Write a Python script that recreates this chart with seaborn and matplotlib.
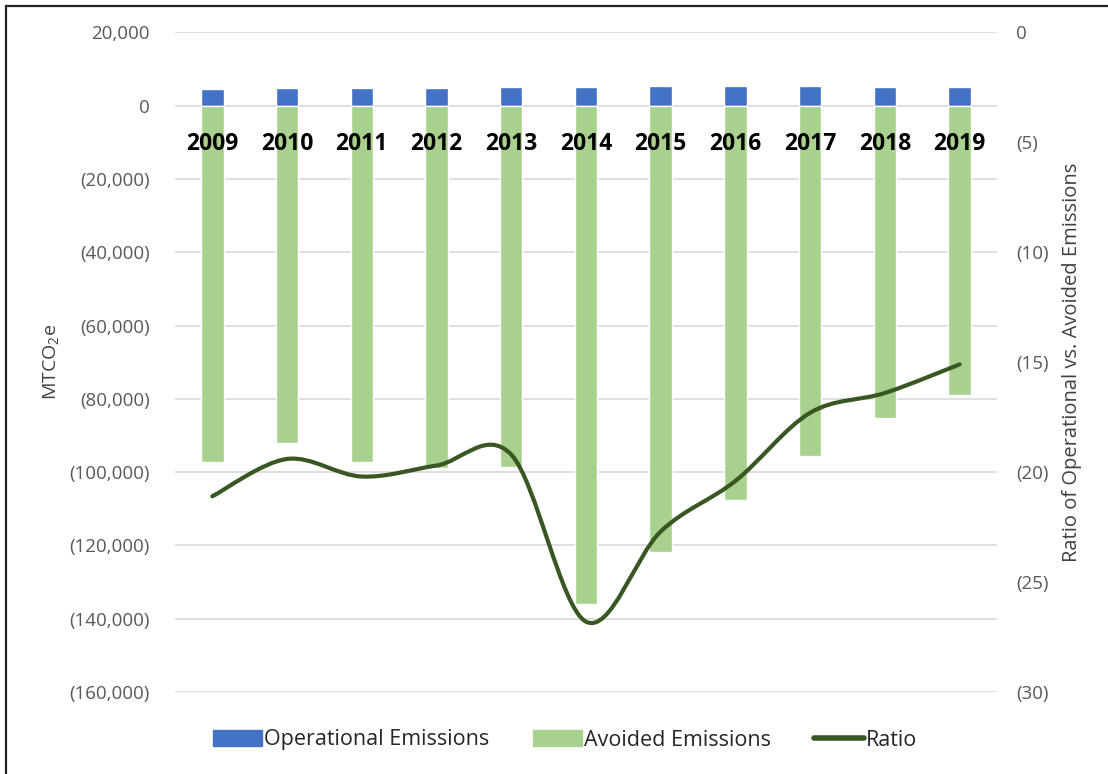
import numpy as np
import matplotlib
matplotlib.use("Agg")
import matplotlib.pyplot as plt
import seaborn as sns
from matplotlib.path import Path
from matplotlib.patches import PathPatch, Patch, Rectangle
from matplotlib.lines import Line2D
from matplotlib.ticker import FuncFormatter, MultipleLocator

# values
years = ['2009', '2010', '2011', '2012', '2013', '2014', '2015', '2016', '2017', '2018', '2019']
operational = [4560, 4730, 4820, 4910, 5000, 5000, 5270, 5270, 5460, 5180, 5180]
avoided = [-97330, -92030, -97330, -98960, -98690, -135960, -121870, -107500, -95690, -85320, -78940]
ratio = [-21.1, -19.4, -20.2, -19.7, -19.2, -26.8, -22.7, -20.4, -17.3, -16.4, -15.1]

blue = '#4472C4'
green = '#A9D18E'
dark_green = '#385723'

sns.set_style('white')
plt.rcParams['font.family'] = ['Open Sans', 'DejaVu Sans']
plt.rcParams['mathtext.default'] = 'regular'


def paren_fmt(v, pos):
    if v < 0:
        return f"({abs(v):,.0f})"
    return f"{v:,.0f}"


fig = plt.figure(figsize=(11.08, 7.74), dpi=100)
ax = fig.add_axes([0.1579, 0.1059, 0.7419, 0.8523])

# stacked-at-zero bars: operational above, avoided below
sns.barplot(x=years, y=operational, color=blue, saturation=1, width=0.3, ax=ax, zorder=2)
sns.barplot(x=years, y=avoided, color=green, saturation=1, width=0.3, ax=ax, zorder=2)

ax.set_ylim(-160000, 20000)
ax.set_xlim(-0.5, len(years) - 0.5)
ax.yaxis.set_major_locator(MultipleLocator(20000))
ax.yaxis.set_major_formatter(FuncFormatter(paren_fmt))
ax.grid(axis='y', color='#D9D9D9', lw=1.2)
ax.grid(axis='x', visible=False)
ax.set_axisbelow(True)
ax.xaxis.set_zorder(5)  # year labels sit on top of the bars
for s in ax.spines.values():
    s.set_visible(False)
ax.spines['bottom'].set_position(('data', 0))
ax.tick_params(axis='y', length=0, pad=18, labelsize=13.5, labelcolor='#595959')
ax.tick_params(axis='x', length=0, pad=19, labelsize=16.5, labelcolor='black')
for lbl in ax.get_xticklabels():
    lbl.set_fontweight('bold')
ax.set_ylabel('MTCO$_2$e', fontsize=14, color='#404040', labelpad=6)
ax.set_xlabel('')

# ratio on the secondary axis, drawn as a smoothed curve through the points
ax2 = ax.twinx()
ax2.set_ylim(-30, 0)
ax2.yaxis.set_major_locator(MultipleLocator(5))
ax2.yaxis.set_major_formatter(FuncFormatter(paren_fmt))
for s in ax2.spines.values():
    s.set_visible(False)
ax2.tick_params(axis='y', length=0, pad=14, labelsize=13.5, labelcolor='#595959')
ax2.set_ylabel('Ratio of Operational vs. Avoided Emissions', fontsize=14.5,
               color='#404040', labelpad=9)

pts = np.column_stack([np.arange(len(ratio)), ratio])
verts = [pts[0]]
codes = [Path.MOVETO]
n = len(pts)
for i in range(n - 1):
    p_prev = pts[i - 1] if i > 0 else pts[i]
    p_next = pts[i + 2] if i + 2 < n else pts[i + 1]
    c1 = pts[i] + (pts[i + 1] - p_prev) / 6
    c2 = pts[i + 1] - (p_next - pts[i]) / 6
    verts += [c1, c2, pts[i + 1]]
    codes += [Path.CURVE4] * 3
ax2.add_patch(PathPatch(Path(verts, codes), fill=False, edgecolor=dark_green,
                        lw=3, capstyle='round', joinstyle='round', zorder=3))

handles = [Patch(color=blue), Patch(color=green),
           Line2D([], [], color=dark_green, lw=4)]
labels = ['Operational Emissions', 'Avoided Emissions', 'Ratio']
fig.legend(handles, labels, loc='center', bbox_to_anchor=(565 / 1108, 1 - 740 / 774),
           ncol=3, frameon=False, fontsize=15.5, handlelength=2.3, handletextpad=0.1,
           columnspacing=2.0, labelcolor='#262626')

# outer frame of the pasted chart (cut off at right and bottom)
fig.add_artist(Rectangle((6 / 1108, -0.05), 1.2, 1 - 6 / 774 + 0.05, transform=fig.transFigure,
                         fill=False, edgecolor='#222222', lw=1.6))

fig.savefig('out.png', dpi=100)
